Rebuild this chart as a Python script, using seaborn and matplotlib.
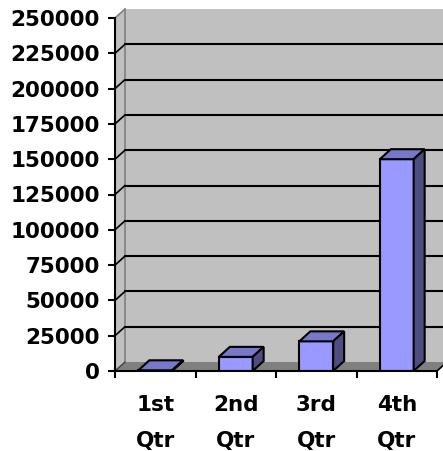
import matplotlib
matplotlib.use("Agg")
import matplotlib.pyplot as plt
from matplotlib.patches import Polygon
import seaborn as sns

# chart data
quarters = ["1st\nQtr", "2nd\nQtr", "3rd\nQtr", "4th\nQtr"]
sales = [500, 10000, 21000, 150000]
y_ticks = list(range(0, 250001, 25000))

sns.set_style("white")
plt.rcParams["font.family"] = ["DejaVu Sans"]
plt.rcParams["font.weight"] = "bold"
plt.rcParams["text.color"] = "black"
plt.rcParams["xtick.color"] = "black"
plt.rcParams["ytick.color"] = "black"

fig = plt.figure(figsize=(4.43, 4.51), dpi=100)
ax = fig.add_axes([115 / 443, 80 / 451, 322 / 443, 353 / 451])

sns.barplot(x=quarters, y=sales, color="#9999FF", saturation=1, width=0.42,
            edgecolor="black", linewidth=1.5, ax=ax, zorder=3)

ax.set_xlim(-0.5, 3.5)
ax.set_ylim(0, 250000)
ax.set_facecolor("none")

# depth of the fake 3d look, in pixels -> data units
wall_px = (10, 9)
bar_px = (11, 10)
xr = 4.0 / ax.bbox.width
yr = 250000 / ax.bbox.height
wdx, wdy = wall_px[0] * xr, wall_px[1] * yr
bdx, bdy = bar_px[0] * xr, bar_px[1] * yr

# back wall
x0, x1 = -0.5, 3.5
ax.add_patch(Polygon([(x0 + wdx, wdy), (x1 + wdx, wdy), (x1 + wdx, 250000 + wdy),
                      (x0 + wdx, 250000 + wdy)], closed=True, facecolor="#C0C0C0",
                     edgecolor="none", zorder=0, clip_on=False))
# side edge of the wall
ax.add_patch(Polygon([(x0, 0), (x0 + wdx, wdy), (x0 + wdx, 250000 + wdy), (x0, 250000)],
                     closed=True, facecolor="#C0C0C0", edgecolor="none", zorder=0, clip_on=False))
ax.plot([x0 + wdx, x0 + wdx], [wdy, 250000 + wdy], color="#808080", lw=1.2, zorder=0.5, clip_on=False)
ax.plot([x0, x0 + wdx], [250000, 250000 + wdy], color="#808080", lw=1.2, zorder=0.5, clip_on=False)

# gridlines on the wall plus the little diagonals from the ticks
for t in y_ticks[1:-1]:
    ax.plot([x0 + wdx, x1 + wdx], [t + wdy, t + wdy], color="black", lw=1.5, zorder=1, clip_on=False)
    ax.plot([x0, x0 + wdx], [t, t + wdy], color="black", lw=1.2, zorder=1, clip_on=False)

# floor
ax.add_patch(Polygon([(x0, 0), (x1, 0), (x1 + wdx, wdy), (x0 + wdx, wdy)], closed=True,
                     facecolor="#808080", edgecolor="none", zorder=1.5, clip_on=False))
ax.plot([x0, x0 + wdx], [0, wdy], color="#404040", lw=1, zorder=1.6, clip_on=False)
ax.plot([x1, x1 + wdx], [0, wdy], color="black", lw=1.2, zorder=1.6, clip_on=False)

# top and side faces of each bar
for p in ax.patches:
    if not hasattr(p, "get_width") or p.get_zorder() != 3:
        continue
    x, w, h = p.get_x(), p.get_width(), p.get_height()
    ax.add_patch(Polygon([(x, h), (x + w, h), (x + w + bdx, h + bdy), (x + bdx, h + bdy)],
                         closed=True, facecolor="#7777CC", edgecolor="black", lw=1.5,
                         zorder=3.1, clip_on=False))
    ax.add_patch(Polygon([(x + w, 0), (x + w, h), (x + w + bdx, h + bdy), (x + w + bdx, bdy)],
                         closed=True, facecolor="#4D4D80", edgecolor="black", lw=1.5,
                         zorder=3.1, clip_on=False))

for s in ["top", "right"]:
    ax.spines[s].set_visible(False)
for s in ["left", "bottom"]:
    ax.spines[s].set_color("black")
    ax.spines[s].set_linewidth(1.5)
    ax.spines[s].set_zorder(4)

ax.set_yticks(y_ticks)
ax.set_yticklabels([str(t) for t in y_ticks], fontsize=15.5, fontweight="bold", color="black")
ax.tick_params(axis="y", direction="out", length=5, width=1.5, pad=6, left=True)

ax.set_xticks([-0.5, 0.5, 1.5, 2.5, 3.5])
ax.set_xticklabels([])
ax.set_xticks([0, 1, 2, 3], minor=True)
ax.set_xticklabels(quarters, minor=True, fontsize=15.5, fontweight="bold", linespacing=2.0,
                   color="black")
ax.tick_params(axis="x", which="major", direction="out", length=5, width=1.5, bottom=True)
ax.tick_params(axis="x", which="minor", length=0, pad=17)
ax.set_xlabel("")
ax.set_ylabel("")

fig.savefig("out.png", dpi=100)
